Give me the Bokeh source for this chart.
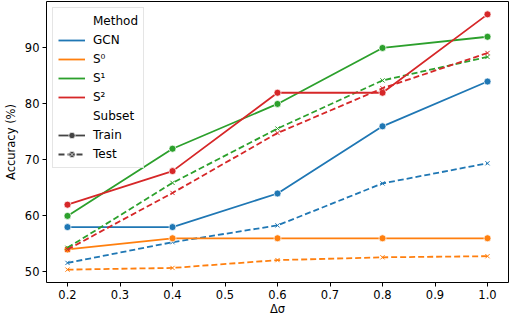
from bokeh.plotting import figure
from bokeh.models import Legend, LegendItem, FixedTicker, PrintfTickFormatter, Range1d, ColumnDataSource
from bokeh.embed import file_html
from bokeh.resources import INLINE

x = [0.2, 0.4, 0.6, 0.8, 1.0]
methods = ["GCN", "S⁰", "S¹", "S²"]
colors = ["#1f77b4", "#ff7f0e", "#2ca02c", "#d62728"]
train = {
    "GCN": [58, 58, 64, 76, 84],
    "S⁰": [54, 56, 56, 56, 56],
    "S¹": [60, 72, 80, 90, 92],
    "S²": [62, 68, 82, 82, 96],
}
test = {
    "GCN": [51.6, 55.3, 58.3, 65.8, 69.4],
    "S⁰": [50.4, 50.7, 52.1, 52.6, 52.8],
    "S¹": [54.3, 65.9, 75.6, 84.2, 88.4],
    "S²": [54.0, 64.1, 74.8, 82.8, 89.1],
}
x_ticks = [0.2, 0.3, 0.4, 0.5, 0.6, 0.7, 0.8, 0.9, 1.0]
y_ticks = [50, 60, 70, 80, 90]

FONT = "DejaVu Sans"
FS = "11.5px"

p = figure(width=510, height=318, output_backend="svg", toolbar_location=None,
           x_range=Range1d(0.16, 1.04), y_range=Range1d(48.1, 98.3),
           min_border_left=30, min_border_right=2, min_border_top=1, min_border_bottom=20)
p.xgrid.visible = False
p.ygrid.visible = False
p.outline_line_color = "black"
p.outline_line_width = 1
p.background_fill_color = "white"

for ax in (p.xaxis[0], p.yaxis[0]):
    ax.major_label_text_font = FONT
    ax.major_label_text_font_size = FS
    ax.major_label_text_color = "black"
    ax.axis_label_text_font = FONT
    ax.axis_label_text_font_size = FS
    ax.axis_label_text_font_style = "normal"
    ax.axis_label_text_color = "black"
    ax.minor_tick_line_color = None
    ax.major_tick_in = 0
    ax.major_tick_out = 4
    ax.major_label_standoff = 3
    ax.axis_line_color = None
    ax.major_tick_line_color = "black"
p.xaxis[0].ticker = FixedTicker(ticks=x_ticks)
p.xaxis[0].formatter = PrintfTickFormatter(format="%.1f")
p.yaxis[0].ticker = FixedTicker(ticks=y_ticks)
p.yaxis[0].formatter = PrintfTickFormatter(format="%d")
p.xaxis[0].axis_label = "Δσ"
p.yaxis[0].axis_label = "Accuracy (%)"
p.xaxis[0].axis_label_standoff = 0
p.yaxis[0].axis_label_standoff = 4

# off-screen placeholder point for legend-only renderers
far = dict(x=[-100.0], y=[-100.0])

items = []
blank = p.line(x="x", y="y", source=ColumnDataSource(far), line_alpha=0)
items.append(LegendItem(label="Method", renderers=[blank]))
for m, c in zip(methods, colors):
    src_tr = ColumnDataSource(dict(x=x, y=train[m]))
    src_te = ColumnDataSource(dict(x=x, y=test[m]))
    lt = p.line("x", "y", source=src_tr, line_color=c, line_width=1.8)
    p.scatter("x", "y", source=src_tr, marker="circle", size=7, fill_color=c,
              line_color="white", line_width=0.7)
    p.line("x", "y", source=src_te, line_color=c, line_width=1.8, line_dash="6 3")
    p.scatter("x", "y", source=src_te, marker="x", size=6, line_color=c, line_width=1)
    items.append(LegendItem(label=m, renderers=[lt]))
blank2 = p.line(x="x", y="y", source=ColumnDataSource(far), line_alpha=0)
items.append(LegendItem(label="Subset", renderers=[blank2]))
gl1 = p.line(x="x", y="y", source=ColumnDataSource(far), line_color="#444444", line_width=1.8)
gs1 = p.scatter(x="x", y="y", source=ColumnDataSource(far), marker="circle", size=7,
                fill_color="#444444", line_color="white", line_width=0.7)
gl2 = p.line(x="x", y="y", source=ColumnDataSource(far), line_color="#444444", line_width=1.8, line_dash="6 3")
gs2 = p.scatter(x="x", y="y", source=ColumnDataSource(far), marker="circle_x", size=7,
                fill_color="#444444", line_color="white", line_width=0.7)
items.append(LegendItem(label="Train", renderers=[gl1, gs1]))
items.append(LegendItem(label="Test", renderers=[gl2, gs2]))

legend = Legend(items=items, location="top_left")
legend.label_text_font = FONT
legend.label_text_font_size = "12px"
legend.label_text_color = "black"
legend.border_line_color = "#cccccc"
legend.border_line_width = 1
legend.background_fill_alpha = 0.8
legend.glyph_width = 27
legend.glyph_height = 16
legend.label_height = 16
legend.spacing = 3
legend.padding = 5
legend.margin = 6
legend.label_standoff = 8
p.add_layout(legend)

open("out.html", "w").write(file_html(p, INLINE))
